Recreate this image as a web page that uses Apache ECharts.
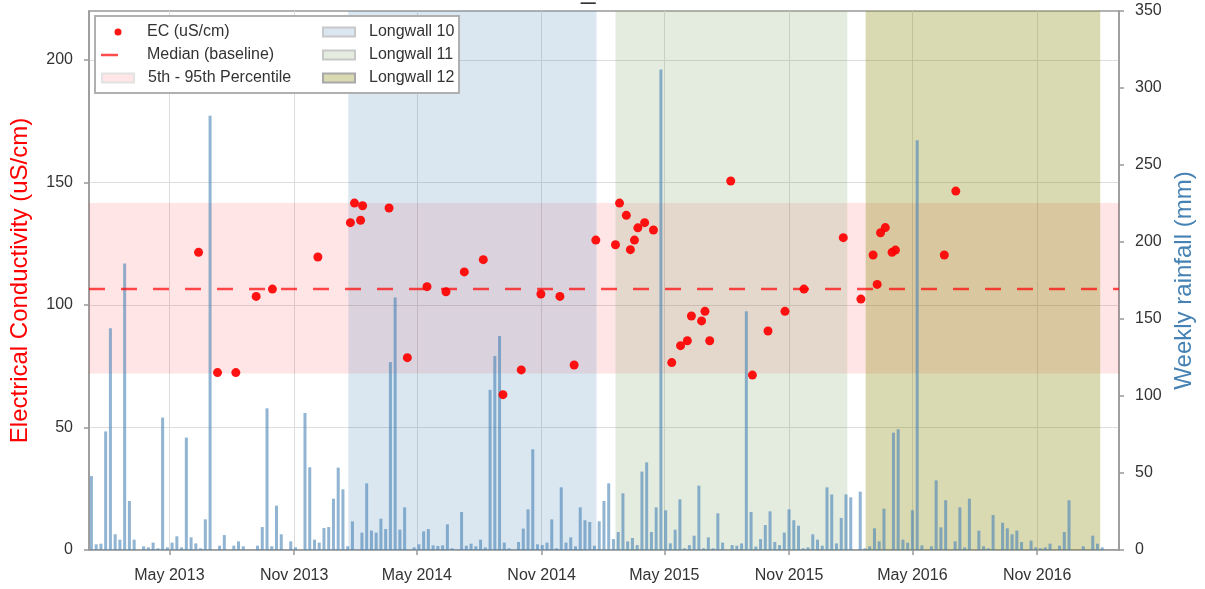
<!DOCTYPE html>
<html><head><meta charset="utf-8">
<script src="https://cdn.jsdelivr.net/npm/echarts@6/dist/echarts.min.js"></script>
<style>html,body{margin:0;padding:0;background:#fff}#c{width:1205px;height:589px}</style>
</head><body><div id="c"></div>
<script>
// ---- data ----
const xStart = '2013-01-02T10:00';
const xEnd = '2017-03-01T17:00';
const xTickDates = ['2013-05-01','2013-11-01','2014-05-01','2014-11-01','2015-05-01','2015-11-01','2016-05-01','2016-11-01'];
const ecTicks = [0, 50, 100, 150, 200];
const rainTicks = [0, 50, 100, 150, 200, 250, 300, 350];

const rainStart = '2013-01-06'; // weekly totals, one bar per week
const rainfall = [
  48, 3.7, 4.1, 77, 144, 10.2, 6.7, 186, 31.8, 6.7,
  0, 2.4, 1.7, 4.8, 1.1, 86, 1.7, 4.8, 8.9, 1.7,
  73, 8.2, 4.3, 1.1, 19.9, 282, 0, 2.8, 9.7, 0,
  2.8, 5.6, 2.4, 0, 0, 2.8, 14.9, 92, 2.4, 28.8,
  10.2, 0, 5.6, 1.7, 0, 89, 53.7, 6.7, 4.8, 14.3,
  14.9, 33.3, 53.5, 39.4, 2.4, 18.6, 0, 11.3, 43.3, 12.6,
  11.3, 20.3, 13.6, 122, 164, 13.2, 27.7, 0, 1.7, 3.7,
  12.1, 13.6, 3, 2.6, 3, 16.7, 1.1, 0, 24.7, 2.8,
  4.1, 2.4, 6.7, 1.7, 104, 126, 139, 4.8, 1.1, 0,
  5.2, 13.9, 26.4, 65.4, 3.7, 3.2, 4.8, 19.9, 1.1, 40.7,
  4.8, 8.2, 2.4, 27.7, 19.3, 18.2, 2.8, 18.6, 31.8, 43.3,
  7.1, 11.7, 36.8, 5.6, 7.8, 3.2, 50.9, 56.9, 11.7, 27.7,
  312, 25.8, 4.3, 13.2, 32.9, 1.1, 3.2, 9.3, 41.8, 1.1,
  8.2, 1.1, 23.8, 4.8, 0, 3.2, 2.8, 4.3, 155, 24.7,
  2.2, 7.1, 16.2, 25.1, 5.2, 3.2, 11.3, 26.4, 19.3, 15.8,
  1.1, 1.7, 10.2, 6.7, 2.8, 40.7, 36.1, 4.3, 20.8, 36.1,
  34.2, 0, 37.9, 1.1, 2.4, 14.1, 5.6, 26.8, 0, 76.2,
  78.4, 6.7, 4.8, 25.8, 266, 3, 0, 2.4, 45.2, 14.7,
  32.3, 0, 5.6, 27.7, 1.7, 33.3, 0, 12.6, 2.4, 1.1,
  22.7, 0, 17.7, 14.1, 10.2, 12.6, 5.2, 0, 6.1, 1.7,
  1.1, 1.7, 4.1, 0, 2.8, 11.7, 32.3, 0, 0, 2.4,
  0, 9.3, 4.1, 1.7
];

const ecDates = [
  '2013-06-13','2013-07-11','2013-08-07','2013-09-06','2013-09-30','2013-12-06',
  '2014-01-23','2014-01-29','2014-02-07','2014-02-10','2014-03-21','2014-04-17','2014-05-16',
  '2014-06-13','2014-07-10','2014-08-07','2014-09-05','2014-10-02','2014-10-31','2014-11-28','2014-12-19',
  '2015-01-20','2015-02-18','2015-02-24','2015-03-06','2015-03-12','2015-03-18','2015-03-23',
  '2015-04-02','2015-04-15','2015-05-12','2015-05-25','2015-06-04','2015-06-10','2015-06-25',
  '2015-06-30','2015-07-07','2015-08-07','2015-09-08','2015-10-01','2015-10-26','2015-11-23',
  '2016-01-20','2016-02-15','2016-03-04','2016-03-10','2016-03-15','2016-03-22','2016-04-01',
  '2016-04-06','2016-06-17','2016-07-04'
];
const ecValues = [
  121.5, 72.4, 72.4, 103.5, 106.5, 119.6,
  133.6, 141.6, 134.6, 140.5, 139.6, 78.5, 107.5,
  105.4, 113.5, 118.5, 63.4, 73.5, 104.5, 103.5, 75.5,
  126.5, 124.6, 141.6, 136.6, 122.6, 126.5, 131.5,
  133.6, 130.6, 76.5, 83.4, 85.4, 95.5, 93.5,
  97.4, 85.4, 150.6, 71.4, 89.4, 97.4, 106.5,
  127.5, 102.4, 120.4, 108.4, 129.5, 131.6, 121.5,
  122.4, 120.4, 146.5
];

const ecMedian = 106.5;
const ecP5 = 72;
const ecP95 = 141.6;

const longwallNames = ['Longwall 10', 'Longwall 11', 'Longwall 12'];
const longwallStart = ['2014-01-20', '2015-02-18', '2016-02-22'];
const longwallEnd = ['2015-01-21', '2016-01-26', '2017-02-02'];

// ---- helpers ----
function ts(s) {
  const m = s.match(/(\d+)-(\d+)-(\d+)(?:T(\d+):(\d+))?/);
  return new Date(+m[1], +m[2] - 1, +m[3], +(m[4] || 0), +(m[5] || 0)).getTime();
}
const MONTHS = ['Jan','Feb','Mar','Apr','May','Jun','Jul','Aug','Sep','Oct','Nov','Dec'];
const FONT = 'Liberation Sans, Arial, Helvetica, sans-serif';

const s0 = new Date(ts(rainStart));
const rainData = rainfall.map((v, i) => {
  const d = new Date(s0.getFullYear(), s0.getMonth(), s0.getDate() + 7 * i);
  return [d.getTime(), v];
});
const ecData = ecDates.map((d, i) => [ts(d), ecValues[i]]);
const xMin = ts(xStart), xMax = ts(xEnd);
const xTicks = xTickDates.map(ts);

const lwFill = ['rgba(70,130,180,0.2)', 'rgba(120,160,100,0.2)', 'rgba(128,128,0,0.3)'];
const lwBorder = ['#c8c8c8', '#c8c8c8', '#a8a8a8'];

const series = [];
series.push({
  name: '5th - 95th Percentile', type: 'line', yAxisIndex: 0, data: [],
  markArea: { silent: true, itemStyle: { color: 'rgba(255,0,0,0.1)' },
    data: [[{ yAxis: ecP5 }, { yAxis: ecP95 }]] }
});
longwallNames.forEach((n, i) => {
  series.push({
    name: n, type: 'line', yAxisIndex: 0, data: [],
    markArea: { silent: true, itemStyle: { color: lwFill[i] },
      data: [[{ xAxis: ts(longwallStart[i]) }, { xAxis: ts(longwallEnd[i]) }]] }
  });
});
series.push({
  name: 'Weekly rainfall', type: 'bar', yAxisIndex: 1, barWidth: 3,
  itemStyle: { color: 'rgba(70,130,180,0.6)' }, data: rainData, z: 3
});
series.push({
  name: 'EC (uS/cm)', type: 'scatter', yAxisIndex: 0, symbolSize: 9,
  itemStyle: { color: '#ff0000', opacity: 0.92 }, data: ecData, z: 5
});
series.push({
  name: 'Median (baseline)', type: 'line', yAxisIndex: 0, symbol: 'none',
  lineStyle: { color: 'rgba(255,0,0,0.7)', width: 2.5, type: [16, 16] },
  data: [[xMin, ecMedian], [xMax, ecMedian]], z: 6
});

const legTxt = (pad) => ({ fontSize: 16, color: '#333', fontFamily: FONT, padding: [0, 0, 0, pad] });
const option = {
  animation: false,
  title: { text: '_', left: 581, top: -21, padding: 0,
    textStyle: { fontSize: 26, fontWeight: 'normal', color: '#333', fontFamily: FONT } },
  grid: { left: 89, right: 86, top: 11, bottom: 39, show: true, borderColor: '#999', borderWidth: 1.5 },
  graphic: [{ type: 'rect', z: 3, shape: { x: 95, y: 16, width: 364, height: 77 },
    style: { fill: '#fff', stroke: '#b0b0b0', lineWidth: 2 } }],
  legend: [
    { data: [{ name: 'EC (uS/cm)', icon: 'circle' }], left: 114.5, top: 24, padding: 0,
      itemWidth: 7, itemHeight: 7, selectedMode: false, textStyle: legTxt(20.5) },
    { data: [{ name: 'Median (baseline)', icon: 'rect', itemStyle: { color: 'rgba(255,0,0,0.7)' } }],
      left: 101, top: 47, padding: 0, itemWidth: 17, itemHeight: 2.5, selectedMode: false, textStyle: legTxt(24) },
    { data: [{ name: '5th - 95th Percentile', icon: 'rect',
        itemStyle: { color: 'rgba(255,0,0,0.1)', borderColor: '#e2e2e2', borderWidth: 2 } }],
      left: 101, top: 70, padding: 0, itemWidth: 32, itemHeight: 9, selectedMode: false, textStyle: legTxt(9) },
    { data: longwallNames.map((n, i) => ({ name: n, icon: 'rect',
        itemStyle: { color: lwFill[i], borderColor: lwBorder[i], borderWidth: 2 } })),
      orient: 'vertical', left: 322, top: 24, padding: 0, itemGap: 7, itemWidth: 32, itemHeight: 9,
      selectedMode: false, textStyle: legTxt(9) }
  ],
  xAxis: {
    type: 'value', min: xMin, max: xMax,
    axisLine: { show: true, lineStyle: { color: '#999', width: 1.5 } },
    axisTick: { show: true, customValues: xTicks, length: 5, lineStyle: { color: '#999', width: 1.5 } },
    axisLabel: { customValues: xTicks, fontSize: 16, color: '#333', margin: 18, fontFamily: FONT,
      formatter: (v) => { const d = new Date(v); return MONTHS[d.getMonth()] + ' ' + d.getFullYear(); } },
    splitLine: { show: true, lineStyle: { color: '#ddd', width: 1 } }
  },
  yAxis: [
    { type: 'value', min: 0, max: 220, interval: 50, position: 'left',
      name: 'Electrical Conductivity (uS/cm)', nameLocation: 'middle', nameRotate: 90, nameGap: 57,
      nameTextStyle: { color: '#ff0000', fontSize: 24, fontFamily: FONT },
      axisLine: { show: true, lineStyle: { color: '#999', width: 1.5 } },
      axisTick: { show: true, customValues: ecTicks, length: 5, lineStyle: { color: '#999', width: 1.5 } },
      axisLabel: { customValues: ecTicks, fontSize: 16, color: '#333', margin: 16, fontFamily: FONT },
      splitLine: { show: true, lineStyle: { color: '#ddd', width: 1 } } },
    { type: 'value', min: 0, max: 350, interval: 50, position: 'right',
      name: 'Weekly rainfall (mm)', nameLocation: 'middle', nameRotate: 90, nameGap: 52,
      nameTextStyle: { color: '#4682b4', fontSize: 24, fontFamily: FONT },
      axisLine: { show: true, lineStyle: { color: '#999', width: 1.5 } },
      axisTick: { show: true, customValues: rainTicks, length: 5, lineStyle: { color: '#999', width: 1.5 } },
      axisLabel: { customValues: rainTicks, fontSize: 16, color: '#333', margin: 16, fontFamily: FONT },
      splitLine: { show: false } }
  ],
  series: series
};
const chart = echarts.init(document.getElementById('c'), null, { renderer: 'canvas' });
chart.setOption(option);
</script></body></html>
